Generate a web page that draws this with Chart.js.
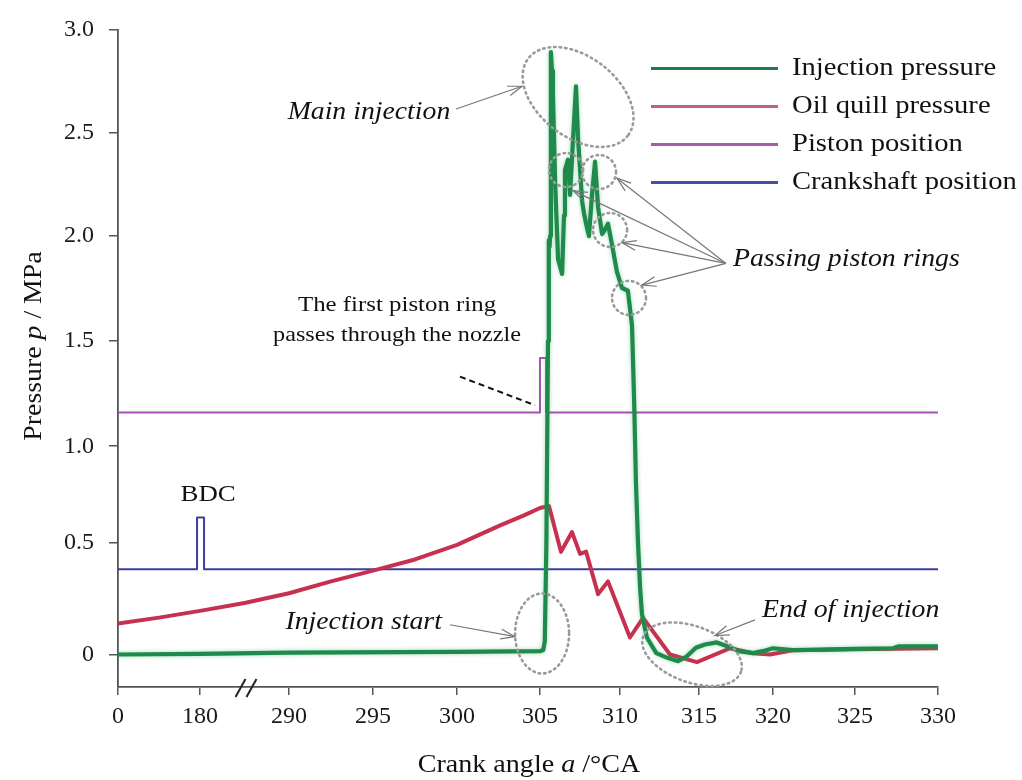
<!DOCTYPE html>
<html><head><meta charset="utf-8">
<script src="https://cdn.jsdelivr.net/npm/chart.js@4.4.1/dist/chart.umd.min.js"></script>
<style>html,body{margin:0;padding:0;background:#fff}#wrap{width:1022px;height:780px}</style>
</head><body><div id="wrap"><canvas id="c" width="1022" height="780"></canvas></div>
<script>
// ---------------- data ----------------
const xTickAngles = [0,180,290,295,300,305,310,315,320,325,330];
const xTickLabels = ['0','180','290','295','300','305','310','315','320','325','330'];
const yTickValues = [0,0.5,1,1.5,2,2.5,3];
const yTickLabels = ['0','0.5','1.0','1.5','2.0','2.5','3.0'];
const seriesNames = ['Injection pressure','Oil quill pressure','Piston position','Crankshaft position'];

const injAngle = [0,180,290,300,305,305.2,305.3,305.4,305.5,305.55,305.6,305.63,305.68,305.75,305.81,305.95,306.13,306.38,306.5,306.56,306.75,306.88,307.05,307.25,307.38,307.63,307.75,307.88,308.06,308.25,308.44,308.63,308.88,309.05,309.25,309.5,309.81,310.13,310.5,310.76,310.9,311.01,311.14,311.27,311.39,311.7,312.3,313.0,313.67,314.2,314.8,315.4,316.2,317.0,317.7,318.65,319.3,320,321.2,323,325,327.3,327.6,330];
const injPressure = [0,0.003,0.008,0.012,0.015,0.02,0.06,0.5,1.5,1.98,1.95,2.0,2.89,2.8,2.68,2.25,1.89,1.82,2.1,2.32,2.37,2.2,2.45,2.725,2.47,2.17,2.11,2.06,2.0,2.2,2.36,2.14,2.01,2.03,2.06,1.96,1.83,1.753,1.74,1.575,1.2,0.81,0.5,0.3,0.18,0.076,0.006,-0.015,-0.03,-0.01,0.03,0.045,0.054,0.035,0.015,0.006,0.015,0.028,0.02,0.022,0.025,0.028,0.036,0.036];

const quillAngle = [0,90,180,235,290,292.5,295,297.5,300,302.6,304,305,305.56,306.31,307.0,307.5,307.88,308.63,309.25,310.63,311.46,313.16,314.87,317.1,318.65,319.8,321.2,325,330];
const quillPressure = [0.139,0.165,0.195,0.23,0.274,0.327,0.375,0.425,0.49,0.59,0.64,0.68,0.69,0.459,0.555,0.45,0.46,0.27,0.327,0.076,0.164,0.0,-0.034,0.028,0.006,0.0,0.019,0.024,0.028];

const pistonAngle = [0,305.0,305.0,305.38,305.38,330];
const pistonLevel = [1.161,1.161,1.42,1.42,1.161,1.161];

const crankAngle = [0,173.5,173.5,185,185,330];
const crankLevel = [0.381,0.381,0.63,0.63,0.381,0.381];

// ---------------- broken / uneven axis layout ----------------
const axisLayout = {
  xGaps: [82,89,84,84,83,80,79,74,82,83],        // relative spacing between x ticks
  yGaps: [113.6,98,106.7,106.7,105,105],         // relative spacing between y ticks
  yBelowZero: 33
};
function piece(v, stops, gaps, offset){
  let i = 0;
  while (i < gaps.length-1 && v > stops[i+1]) i++;
  let cum = offset;
  for (let k=0;k<i;k++) cum += gaps[k];
  return cum + (v - stops[i])/(stops[i+1]-stops[i])*gaps[i];
}
const toU = a => piece(a, xTickAngles, axisLayout.xGaps, 0);
const toW = v => piece(v, yTickValues, axisLayout.yGaps, axisLayout.yBelowZero);
const xMax = axisLayout.xGaps.reduce((s,g)=>s+g,0);
const yMax = axisLayout.yBelowZero + axisLayout.yGaps.reduce((s,g)=>s+g,0);
const pts = (xs, ys) => xs.map((a,i)=>({x:toU(a), y:toW(ys[i])}));

const colors = ['#1e8a4b','#c7314f','#a452b1','#3b3f9f'];
const legendColors = ['#1f7d4c','#c2607b','#a05ea3','#4650a3'];
const SERIF = '"Liberation Serif", "Times New Roman", serif';
const STRETCH = 1.11;   // the figure's lettering is slightly wide

// ---------------- annotation plugin ----------------
function arrow(ctx, x1,y1,x2,y2){
  ctx.beginPath(); ctx.moveTo(x1,y1); ctx.lineTo(x2,y2); ctx.stroke();
  const ang = Math.atan2(y2-y1, x2-x1), L = 15, s = 0.33;
  ctx.beginPath();
  ctx.moveTo(x2 - L*Math.cos(ang-s), y2 - L*Math.sin(ang-s));
  ctx.lineTo(x2,y2);
  ctx.lineTo(x2 - L*Math.cos(ang+s), y2 - L*Math.sin(ang+s));
  ctx.stroke();
}
function wideText(ctx, s, x, y, align, font, sx){
  ctx.save(); ctx.translate(x,y); ctx.scale(sx||STRETCH,1);
  ctx.font = font; ctx.textAlign = align; ctx.fillText(s,0,0); ctx.restore();
}
function mixed(ctx, parts, x, y, size, sx){
  let total = 0;
  parts.forEach(p=>{ ctx.font = (p[1]?'italic ':'') + size + 'px ' + SERIF; p.w = ctx.measureText(p[0]).width; total += p.w; });
  ctx.save(); ctx.translate(x,y); ctx.scale(sx,1);
  let cx = -total/2;
  ctx.textAlign = 'left';
  parts.forEach(p=>{ ctx.font = (p[1]?'italic ':'') + size + 'px ' + SERIF; ctx.fillText(p[0], cx, 0); cx += p.w; });
  ctx.restore();
}
const glow = {
  id:'glow',
  beforeDatasetDraw(chart, args){
    if (args.index === 0) { const c = chart.ctx; c.save(); c.shadowColor = 'rgba(60,170,100,0.45)'; c.shadowBlur = 4; }
  },
  afterDatasetDraw(chart, args){ if (args.index === 0) chart.ctx.restore(); }
};
const annot = {
  id:'annot',
  afterDraw(chart){
    const ctx = chart.ctx, xs = chart.scales.x, ys = chart.scales.y, ca = chart.chartArea;
    const P = (a,v)=>[xs.getPixelForValue(toU(a)), ys.getPixelForValue(toW(v))];
    ctx.save();
    // axis break mark
    const bx = (xs.getPixelForValue(toU(180)) + xs.getPixelForValue(toU(290)))/2 + 2, by = ca.bottom;
    ctx.strokeStyle = '#222'; ctx.lineWidth = 2;
    [-6,5].forEach(o=>{ ctx.beginPath(); ctx.moveTo(bx+o-5, by+10); ctx.lineTo(bx+o+5, by-8); ctx.stroke(); });

    // dotted ellipses
    ctx.strokeStyle = '#9a9a9a'; ctx.lineWidth = 2.6; ctx.setLineDash([1.5,4]); ctx.lineCap = 'round';
    const ell = (a,v,rx,ry,rot)=>{ const [x,y]=P(a,v); ctx.beginPath(); ctx.ellipse(x,y,rx,ry,rot*Math.PI/180,0,Math.PI*2); ctx.stroke(); };
    ell(307.38,2.673,63,40,38);
    ell(306.63,2.32,17,17,0); ell(308.69,2.31,17,17,0); ell(309.38,2.03,17,17,0); ell(310.57,1.706,17,17,0);
    ell(305.13,0.094,27,40,0);
    ell(314.56,0.0013,52,28,20);
    ctx.setLineDash([]); ctx.lineCap = 'butt';

    // arrows
    ctx.strokeStyle = '#777'; ctx.lineWidth = 1.2;
    const ar = (a1,v1,a2,v2)=>{ const [x1,y1]=P(a1,v1), [x2,y2]=P(a2,v2); arrow(ctx,x1,y1,x2,y2); };
    ar(299.94,2.615,303.92,2.725);
    ar(316.82,1.87,307.06,2.22); ar(316.82,1.87,309.81,2.28); ar(316.82,1.87,310.13,1.969); ar(316.82,1.87,311.39,1.767);
    ar(299.58,0.133,303.49,0.08);
    ar(318.78,0.155,316.08,0.085);

    // dashed pointer
    ctx.strokeStyle = '#111'; ctx.lineWidth = 2; ctx.setLineDash([6,4]);
    { const [x1,y1]=P(300.18,1.331), [x2,y2]=P(304.7,1.195); ctx.beginPath(); ctx.moveTo(x1,y1); ctx.lineTo(x2,y2); ctx.stroke(); }
    ctx.setLineDash([]);

    // texts
    ctx.fillStyle = '#111'; ctx.textBaseline = 'middle';
    const txt = (s,a,v,align,font,sx)=>{ const [x,y]=P(a,v); wideText(ctx,s,x,y,align,font,sx); };
    txt('Main injection',299.6,2.60,'right','italic 25px '+SERIF);
    txt('Passing piston rings',317.3,1.889,'left','italic 25px '+SERIF);
    txt('The first piston ring',296.43,1.669,'center','22px '+SERIF,1.13);
    txt('passes through the nozzle',296.43,1.528,'center','22px '+SERIF,1.1);
    txt('BDC',190,0.748,'center','24px '+SERIF,1.12);
    txt('Injection start',299.1,0.142,'right','italic 25px '+SERIF);
    txt('End of injection',319.26,0.195,'left','italic 25px '+SERIF);

    // legend
    const lx0 = ca.right - 287, lx1 = ca.right - 160, ltx = ca.right - 146;
    seriesNames.forEach((n,i)=>{
      const y = ca.top + 39 + i*38;
      ctx.strokeStyle = legendColors[i]; ctx.lineWidth = 3;
      ctx.beginPath(); ctx.moveTo(lx0,y); ctx.lineTo(lx1,y); ctx.stroke();
      ctx.fillStyle = '#111';
      wideText(ctx, n, ltx, y, 'left', '26px '+SERIF, 1.1);
    });

    // axis titles
    ctx.textBaseline = 'alphabetic'; ctx.fillStyle = '#111';
    mixed(ctx, [['Crank angle ',0],['a',1],[' /\u00B0CA',0]], (ca.left+ca.right)/2 + 1, 772, 26, 1.08);
    ctx.save();
    ctx.translate(41, 346); ctx.rotate(-Math.PI/2);
    mixed(ctx, [['Pressure ',0],['p',1],[' / MPa',0]], 0, 0, 26, 1.07);
    ctx.restore();
    ctx.restore();
  }
};

const ds = (label, data, i, w) => ({label, data, borderColor: colors[i], backgroundColor: colors[i], borderWidth: w, pointRadius: 0, showLine: true, tension: 0, fill: false, borderJoinStyle: 'round', borderCapStyle: 'round'});

new Chart(document.getElementById('c'), {
  type: 'scatter',
  data: { datasets: [
    ds(seriesNames[0], pts(injAngle, injPressure), 0, 4.2),
    ds(seriesNames[1], pts(quillAngle, quillPressure), 1, 4),
    ds(seriesNames[2], pts(pistonAngle, pistonLevel), 2, 2),
    ds(seriesNames[3], pts(crankAngle, crankLevel), 3, 2)
  ]},
  options: {
    responsive: false, animation: false, events: [],
    layout: { padding: { left: 0, top: 19, right: 84, bottom: 0 } },
    plugins: { legend: { display: false }, tooltip: { enabled: false } },
    scales: {
      x: {
        type: 'linear', min: 0, max: xMax,
        afterBuildTicks: s => { s.ticks = xTickAngles.map(a => ({ value: toU(a) })); },
        afterFit: s => { s.height = 93; },
        ticks: { autoSkip: false, maxRotation: 0, minRotation: 0, padding: 7, color: '#1a1a1a',
                 font: { family: SERIF, size: 24 }, callback: (v, i) => xTickLabels[i] },
        grid: { drawOnChartArea: false, drawTicks: true, tickLength: 8, color: '#555', lineWidth: 1.5 },
        border: { display: true, color: '#555', width: 1.8 }
      },
      y: {
        type: 'linear', min: 0, max: yMax,
        afterBuildTicks: s => { s.ticks = yTickValues.map(v => ({ value: toW(v) })); },
        afterFit: s => { s.width = 118; },
        ticks: { autoSkip: false, padding: 15, color: '#1a1a1a',
                 font: { family: SERIF, size: 24 }, callback: (v, i) => yTickLabels[i] },
        grid: { drawOnChartArea: false, drawTicks: true, tickLength: 9, color: '#555', lineWidth: 1.5 },
        border: { display: true, color: '#555', width: 1.8 }
      }
    }
  },
  plugins: [glow, annot]
});
</script>
</body></html>
